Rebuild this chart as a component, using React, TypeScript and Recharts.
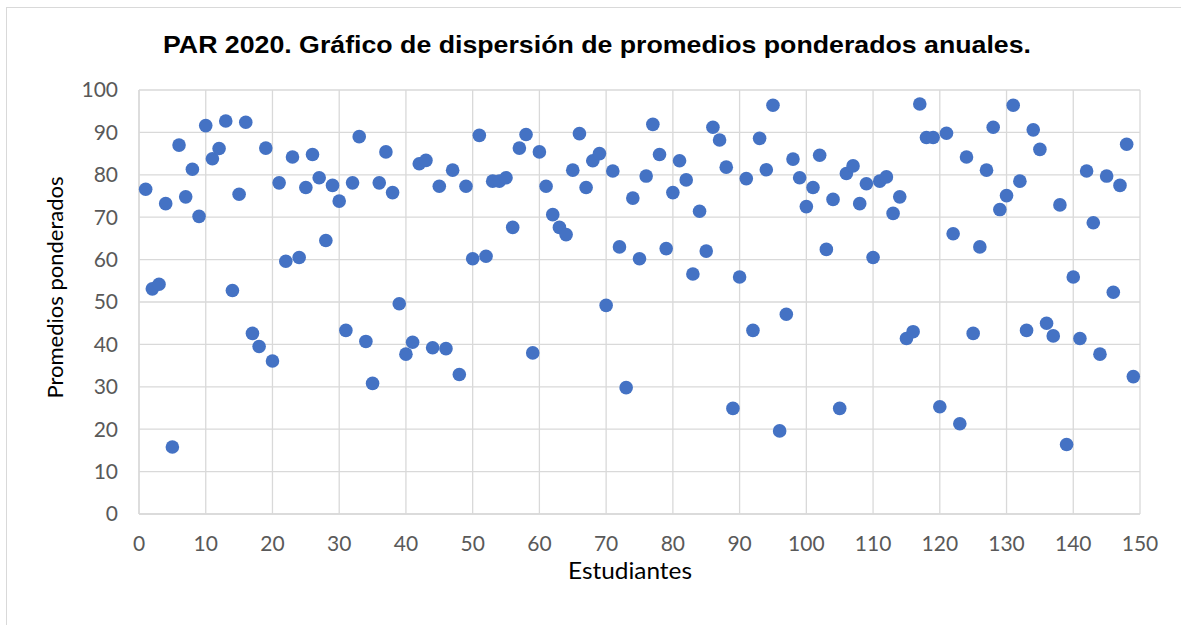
import { ScatterChart, Scatter, XAxis, YAxis, CartesianGrid } from 'recharts';

// promedio ponderado anual de cada estudiante (estudiante 1..149, en orden)
const promedios = [
  76.6, 53.1, 54.2, 73.2, 15.8, 87.0, 74.8, 81.3, 70.2, 91.6,
  83.8, 86.2, 92.7, 52.7, 75.4, 92.4, 42.6, 39.5, 86.3, 36.1,
  78.1, 59.6, 84.2, 60.5, 77.0, 84.8, 79.3, 64.5, 77.5, 73.8,
  43.3, 78.1, 89.0, 40.7, 30.8, 78.1, 85.4, 75.8, 49.6, 37.7,
  40.5, 82.6, 83.4, 39.2, 77.3, 39.0, 81.1, 32.9, 77.3, 60.2,
  89.3, 60.8, 78.5, 78.5, 79.3, 67.6, 86.3, 89.5, 38.0, 85.4,
  77.3, 70.6, 67.6, 65.9, 81.1, 89.7, 77.0, 83.3, 85.0, 49.2,
  80.9, 63.0, 29.8, 74.5, 60.2, 79.7, 91.9, 84.8, 62.6, 75.8,
  83.3, 78.8, 56.6, 71.4, 62.0, 91.2, 88.2, 81.8, 24.9, 55.9,
  79.1, 43.3, 88.6, 81.2, 96.4, 19.6, 47.1, 83.7, 79.3, 72.5,
  77.0, 84.6, 62.4, 74.2, 24.9, 80.3, 82.1, 73.2, 77.9, 60.5,
  78.5, 79.5, 70.9, 74.8, 41.4, 43.0, 96.7, 88.8, 88.8, 25.3,
  89.8, 66.1, 21.3, 84.2, 42.6, 63.0, 81.1, 91.2, 71.8, 75.1,
  96.4, 78.5, 43.3, 90.6, 86.0, 45.0, 42.0, 72.9, 16.4, 55.9,
  41.4, 80.9, 68.7, 37.7, 79.7, 52.3, 77.5, 87.2, 32.4,
];

const xTicks = [0, 10, 20, 30, 40, 50, 60, 70, 80, 90, 100, 110, 120, 130, 140, 150];
const yTicks = [0, 10, 20, 30, 40, 50, 60, 70, 80, 90, 100];

const data = promedios.map((promedio, i) => ({ estudiante: i + 1, promedio }));

const c = {
  dot: '#4472C4',
  grid: '#D9D9D9',
  tick: '#595959',
  text: '#000000',
  frame: '#D9D9D9',
};

const tickFont = { fill: c.tick, fontSize: 21, fontFamily: 'Lato, "Open Sans", sans-serif' };

export default function App() {
  return (
    <div style={{ position: 'relative', width: 1181, height: 625, background: '#fff', overflow: 'hidden' }}>
      <style>{'body{margin:0}'}</style>
      <div
        style={{
          position: 'absolute',
          left: 6,
          top: 7,
          width: 1200,
          height: 640,
          borderLeft: `1.5px solid ${c.frame}`,
          borderTop: `1.5px solid ${c.frame}`,
        }}
      />
      <ScatterChart width={1181} height={625} margin={{ top: 90, right: 41, bottom: 61, left: 79 }}>
        <CartesianGrid stroke={c.grid} strokeWidth={1.3} />
        <XAxis
          type="number"
          dataKey="estudiante"
          domain={[0, 150]}
          ticks={xTicks}
          height={50}
          tick={tickFont}
          tickLine={false}
          tickSize={0}
          tickMargin={22}
          axisLine={{ stroke: c.grid, strokeWidth: 1.5 }}
          interval={0}
        />
        <YAxis
          type="number"
          dataKey="promedio"
          domain={[0, 100]}
          ticks={yTicks}
          width={60}
          tick={tickFont}
          tickLine={false}
          tickSize={0}
          tickMargin={21}
          axisLine={{ stroke: c.grid, strokeWidth: 1.3 }}
          interval={0}
        />
        <Scatter
          data={data}
          fill={c.dot}
          isAnimationActive={false}
          shape={(p: any) => <circle cx={p.cx} cy={p.cy} r={6.8} fill={c.dot} />}
        />
      </ScatterChart>
      <svg width={1181} height={625} style={{ position: 'absolute', left: 0, top: 0, pointerEvents: 'none' }}>
        <text
          x={597}
          y={53}
          textAnchor="middle"
          fontFamily='"Liberation Sans", Arial, sans-serif'
          fontWeight="bold"
          fontSize={24}
          fill={c.text}
          textLength={868}
          lengthAdjust="spacingAndGlyphs"
        >
          PAR 2020. Gráfico de dispersión de promedios ponderados anuales.
        </text>
        <text
          x={630}
          y={579}
          textAnchor="middle"
          fontFamily='Lato, "Open Sans", sans-serif'
          fontSize={23}
          fill={c.text}
          textLength={124}
          lengthAdjust="spacingAndGlyphs"
        >
          Estudiantes
        </text>
        <text
          x={63}
          y={287.5}
          transform="rotate(-90 63 287.5)"
          textAnchor="middle"
          fontFamily='Lato, "Open Sans", sans-serif'
          fontSize={22}
          fill={c.text}
          textLength={222}
          lengthAdjust="spacingAndGlyphs"
        >
          Promedios ponderados
        </text>
      </svg>
    </div>
  );
}
